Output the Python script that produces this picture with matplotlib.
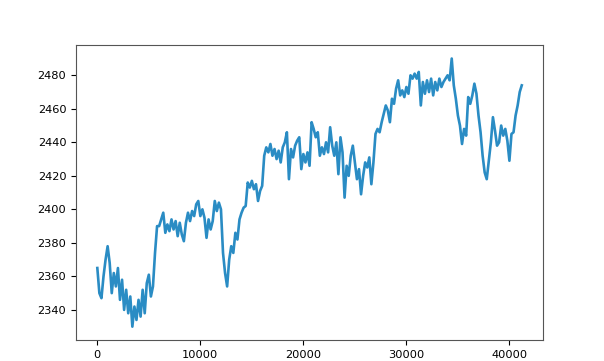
import matplotlib
matplotlib.use("Agg")
import matplotlib.pyplot as plt
import numpy as np

step = 200
price = [
    2365, 2350, 2347, 2360, 2370, 2378, 2368,
    2350, 2362, 2354, 2365, 2346, 2358, 2340, 2352,
    2338, 2348, 2330, 2342, 2334, 2346, 2336, 2352,
    2338, 2356, 2361, 2348, 2354, 2374, 2390, 2390,
    2394, 2398, 2386, 2391, 2387, 2394, 2388, 2393,
    2384, 2392, 2385, 2381, 2392, 2398, 2393, 2399,
    2396, 2403, 2405, 2396, 2400, 2395, 2383, 2394,
    2388, 2393, 2405, 2399, 2404, 2400, 2374, 2362,
    2354, 2370, 2378, 2374, 2386, 2382, 2394, 2398,
    2401, 2402, 2416, 2413, 2417, 2412, 2415, 2405,
    2411, 2414, 2432, 2437, 2434, 2439, 2432, 2436,
    2430, 2435, 2428, 2437, 2440, 2446, 2418, 2436,
    2431, 2438, 2441, 2443, 2424, 2433, 2428, 2434,
    2426, 2452, 2448, 2443, 2446, 2432, 2437, 2433,
    2440, 2434, 2449, 2438, 2432, 2440, 2421, 2443,
    2434, 2407, 2426, 2420, 2432, 2438, 2428, 2418,
    2424, 2409, 2420, 2428, 2425, 2431, 2415, 2428,
    2445, 2448, 2446, 2452, 2457, 2462, 2459, 2452,
    2466, 2463, 2472, 2477, 2468, 2471, 2467, 2473,
    2469, 2480, 2478, 2481, 2478, 2482, 2462, 2476,
    2469, 2477, 2470, 2478, 2468, 2476, 2471, 2478,
    2473, 2476, 2478, 2480, 2477, 2490, 2474, 2466,
    2456, 2450, 2439, 2448, 2444, 2467, 2463, 2468,
    2475, 2469, 2456, 2446, 2432, 2422, 2418, 2429,
    2440, 2455, 2447, 2438, 2440, 2450, 2444, 2448,
    2441, 2429, 2445, 2446, 2456, 2462, 2470, 2474,
]
t = np.arange(len(price)) * step

fig = plt.figure(figsize=(6.04, 3.61), dpi=100)
ax = fig.add_axes([0.126, 0.058, 0.773, 0.817])
ax.plot(t, price, color='#2a8cc4', linewidth=1.9)
ax.tick_params(labelsize=8.2, length=3.5)
for s in ax.spines.values():
    s.set_color('#555555')

plt.savefig("out.png", dpi=100)
